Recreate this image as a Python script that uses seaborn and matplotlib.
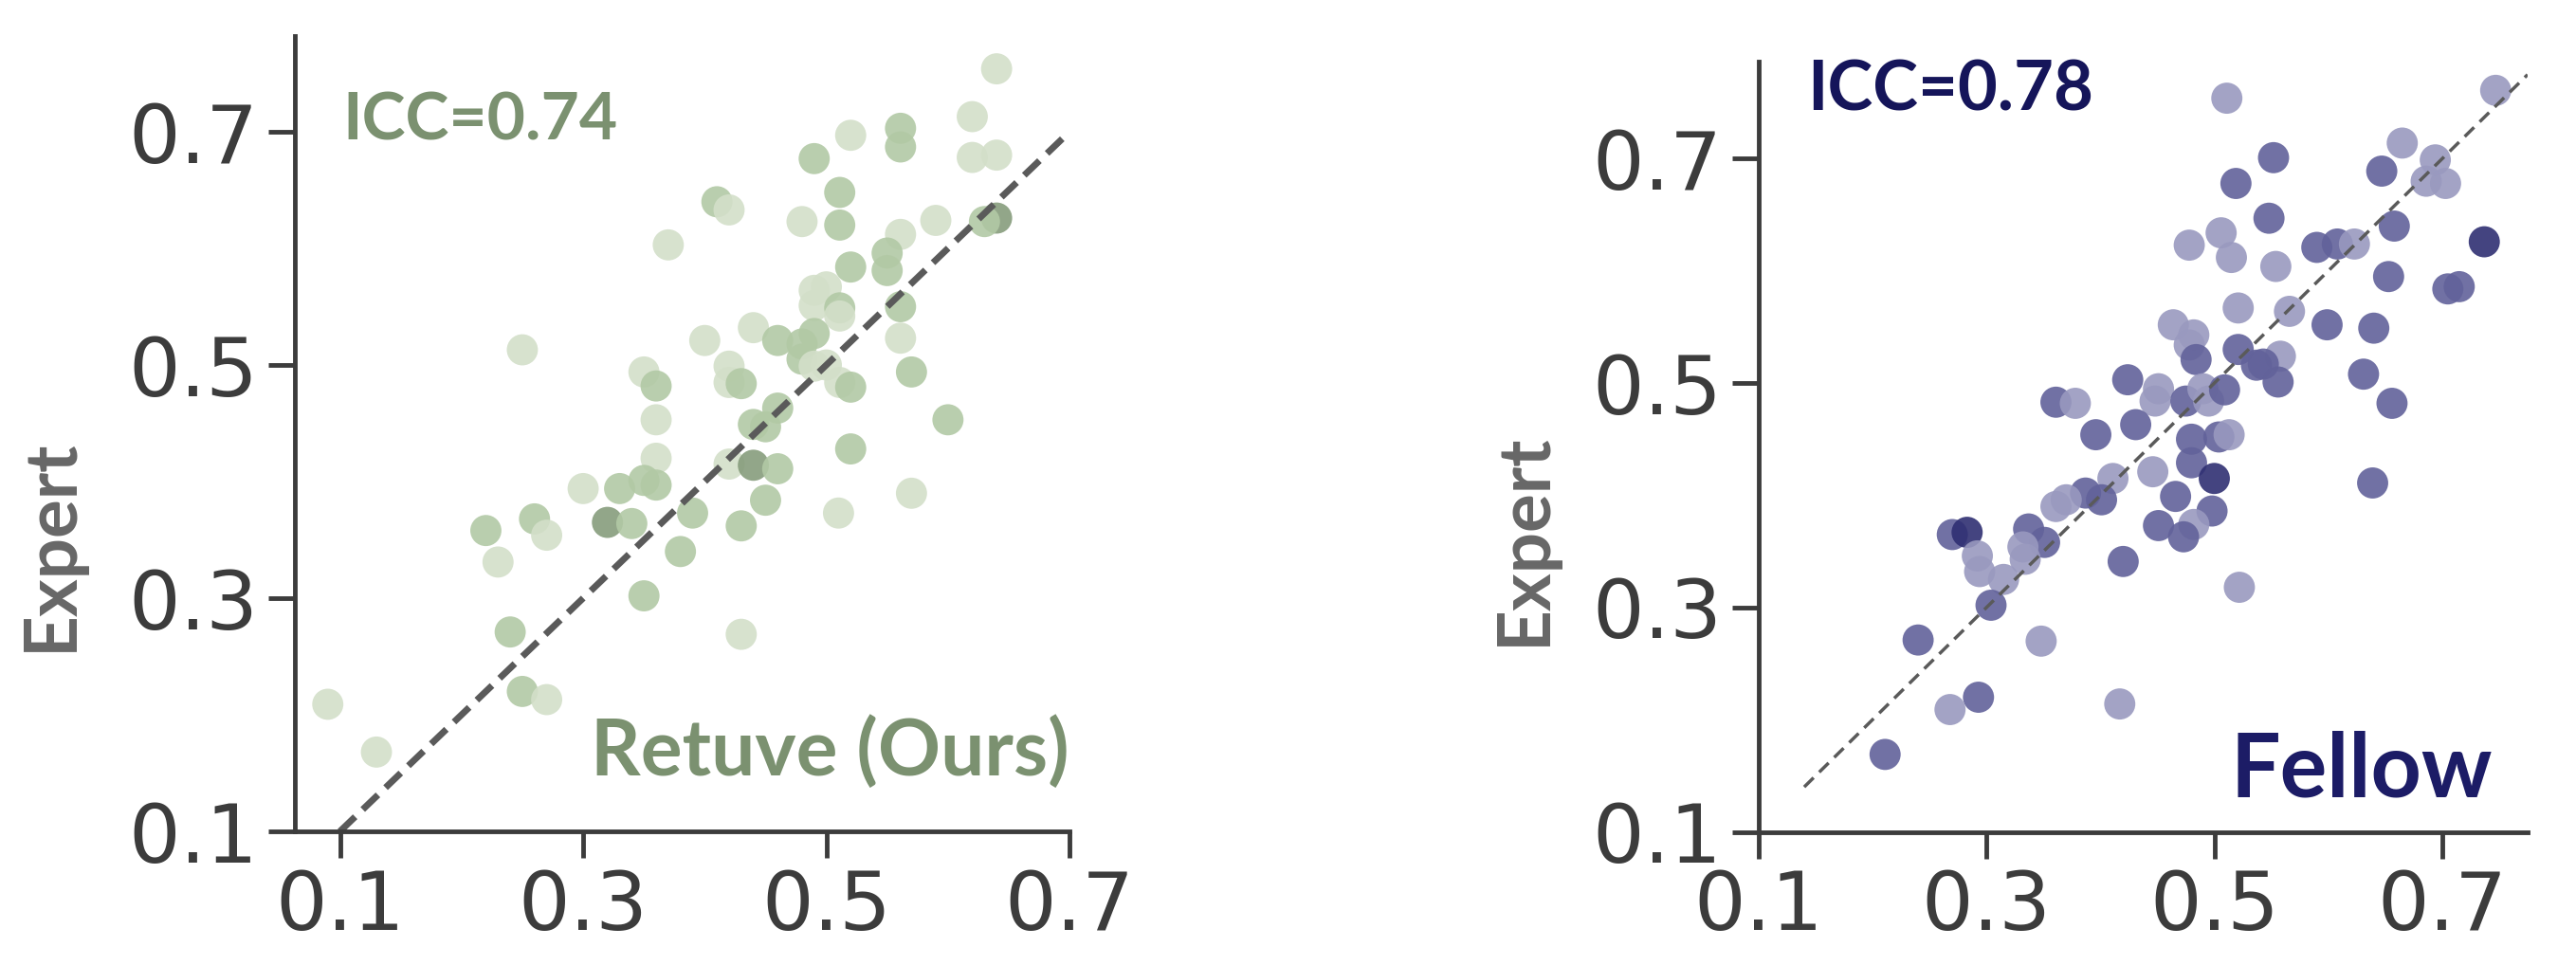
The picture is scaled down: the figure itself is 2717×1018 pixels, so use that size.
import numpy as np
import pandas as pd
import matplotlib.pyplot as plt
import seaborn as sns

# Retuve (Ours) vs Expert
retuve_x = [0.640, 0.620, 0.520, 0.561, 0.561, 0.620, 0.640, 0.490, 0.410, 0.420,
            0.480, 0.511, 0.511, 0.590, 0.561, 0.640, 0.630, 0.370, 0.550, 0.550,
            0.520, 0.490, 0.500, 0.490, 0.511, 0.511, 0.561, 0.440, 0.460, 0.490,
            0.480, 0.480, 0.561, 0.400, 0.250, 0.490, 0.500, 0.420, 0.420, 0.430,
            0.511, 0.520, 0.570, 0.350, 0.360, 0.360, 0.460, 0.440, 0.450, 0.600,
            0.360, 0.420, 0.440, 0.460, 0.520, 0.300, 0.330, 0.350, 0.360, 0.570,
            0.390, 0.450, 0.510, 0.320, 0.340, 0.260, 0.270, 0.220, 0.430, 0.230,
            0.380, 0.350, 0.240, 0.430, 0.250, 0.270, 0.090, 0.130]
retuve_y = [0.754, 0.713, 0.697, 0.703, 0.687, 0.678, 0.680, 0.677, 0.640, 0.633,
            0.623, 0.648, 0.620, 0.624, 0.612, 0.626, 0.623, 0.603, 0.596, 0.581,
            0.584, 0.564, 0.567, 0.551, 0.549, 0.542, 0.550, 0.532, 0.521, 0.527,
            0.518, 0.505, 0.523, 0.521, 0.513, 0.499, 0.500, 0.499, 0.485, 0.484,
            0.485, 0.481, 0.494, 0.494, 0.482, 0.453, 0.463, 0.449, 0.447, 0.453,
            0.420, 0.415, 0.414, 0.411, 0.428, 0.394, 0.394, 0.401, 0.397, 0.390,
            0.373, 0.384, 0.373, 0.365, 0.364, 0.368, 0.354, 0.358, 0.362, 0.331,
            0.340, 0.302, 0.271, 0.269, 0.220, 0.213, 0.209, 0.168]
retuve_shade = list("LLLMMLLMML" "LMMLLDMLMM" "MLLLMLMLMM" "MMLLLLLLLM"
                    "LMMLMLMMMM" "LLDMMLMMML" "MMLDMMLMML" "MMMLMLLL")

# Fellow vs Expert
fellow_x = [0.511, 0.747, 0.665, 0.552, 0.694, 0.647, 0.686, 0.703, 0.519, 0.548,
            0.658, 0.506, 0.478, 0.515, 0.554, 0.590, 0.608, 0.623, 0.737, 0.653,
            0.705, 0.715, 0.521, 0.566, 0.599, 0.640, 0.464, 0.482, 0.478, 0.484,
            0.521, 0.558, 0.537, 0.543, 0.556, 0.631, 0.424, 0.451, 0.448, 0.475,
            0.490, 0.495, 0.509, 0.361, 0.378, 0.656, 0.431, 0.396, 0.480, 0.504,
            0.513, 0.446, 0.480, 0.500, 0.411, 0.639, 0.387, 0.401, 0.370, 0.361,
            0.466, 0.498, 0.482, 0.451, 0.473, 0.270, 0.283, 0.337, 0.351, 0.332,
            0.334, 0.292, 0.294, 0.315, 0.420, 0.522, 0.304, 0.240, 0.348, 0.293,
            0.268, 0.417, 0.211]
fellow_y = [0.754, 0.761, 0.714, 0.701, 0.699, 0.689, 0.680, 0.678, 0.678, 0.647,
            0.640, 0.634, 0.623, 0.612, 0.604, 0.621, 0.624, 0.624, 0.626, 0.595,
            0.584, 0.586, 0.567, 0.564, 0.552, 0.549, 0.552, 0.543, 0.534, 0.521,
            0.530, 0.524, 0.516, 0.517, 0.501, 0.508, 0.503, 0.495, 0.484, 0.484,
            0.495, 0.484, 0.494, 0.483, 0.482, 0.482, 0.463, 0.454, 0.450, 0.452,
            0.454, 0.421, 0.429, 0.415, 0.415, 0.411, 0.402, 0.396, 0.396, 0.390,
            0.399, 0.386, 0.374, 0.373, 0.363, 0.365, 0.367, 0.370, 0.358, 0.354,
            0.343, 0.346, 0.332, 0.325, 0.341, 0.318, 0.302, 0.271, 0.270, 0.220,
            0.209, 0.214, 0.169]
fellow_shade = list("LLLMLMLLMM" "MLLLLMMLDM" "MMLLMMLLLM" "MLMMMMMLLM"
                    "LLMMLMMMMM" "LLMDLMMMLL" "MMLMMMDMML" "LLLLMLMMLM" "LLM")

green_pal = {"L": "#d3dfc9", "M": "#b2c9a5", "D": "#869c7c"}
blue_pal = {"L": "#9999bf", "M": "#62629a", "D": "#2f2f72"}

df_r = pd.DataFrame({"ai": retuve_x, "expert": retuve_y, "shade": retuve_shade})
df_f = pd.DataFrame({"ai": fellow_x, "expert": fellow_y, "shade": fellow_shade})

sns.set_style("ticks")
plt.rcParams['font.family'] = ['DejaVu Sans']

fig = plt.figure(figsize=(27.17, 10.18), dpi=100)
ax1 = fig.add_axes([0.1145, 0.1385, 0.3007, 0.824])
ax2 = fig.add_axes([0.6827, 0.138, 0.2985, 0.7986])

label_font = dict(family=['Lato', 'DejaVu Sans'], fontweight='bold')

# panel 1
sns.scatterplot(data=df_r, x="ai", y="expert", hue="shade", palette=green_pal,
                s=560, linewidth=0, alpha=0.9, legend=False, ax=ax1)
ax1.plot([0.1, 0.7], [0.1, 0.7], ls=(0, (3.2, 1.6)), color="#5a5a5a", lw=5)
ax1.set_xlim(0.063, 0.7)
ax1.set_ylim(0.1, 0.782)
ax1.text(0.102, 0.709, "ICC=0.74", color="#7b9170", fontsize=50, va="center",
         ha="left", **label_font)
ax1.text(0.7, 0.168, "Retuve (Ours)", color="#7b9170", fontsize=59, va="center",
         ha="right", **label_font)

# panel 2
sns.scatterplot(data=df_f, x="ai", y="expert", hue="shade", palette=blue_pal,
                s=560, linewidth=0, alpha=0.9, legend=False, ax=ax2)
ax2.plot([0.14, 0.775], [0.14, 0.775], ls=(0, (4, 2.4)), color="#5a5a5a", lw=2.5)
ax2.set_xlim(0.1, 0.775)
ax2.set_ylim(0.1, 0.787)
ax2.text(0.143, 0.760, "ICC=0.78", color="#15155a", fontsize=52, va="center",
         ha="left", **label_font)
ax2.text(0.744, 0.154, "Fellow", color="#1c1c66", fontsize=67, va="center",
         ha="right", **label_font)

for ax in (ax1, ax2):
    ax.set_xticks([0.1, 0.3, 0.5, 0.7])
    ax.set_yticks([0.1, 0.3, 0.5, 0.7])
    ax.set_xticklabels(["0.1", "0.3", "0.5", "0.7"])
    ax.set_yticklabels(["0.1", "0.3", "0.5", "0.7"])
    ax.tick_params(axis="both", labelsize=62, colors="#3c3c3c", length=20,
                   width=3.5, pad=8)
    for sp in ("left", "bottom"):
        ax.spines[sp].set_linewidth(3.5)
        ax.spines[sp].set_color("#3c3c3c")
    ax.set_xlabel("")
    ax.set_ylabel("Expert", fontsize=55, color="#676767", **label_font)
    sns.despine(ax=ax)

# ylabel placed lower than centre, as in the reference
ax1.yaxis.set_label_coords(-0.272, 0.36)
ax2.yaxis.set_label_coords(-0.262, 0.38)

fig.savefig("out.png", dpi=100)
